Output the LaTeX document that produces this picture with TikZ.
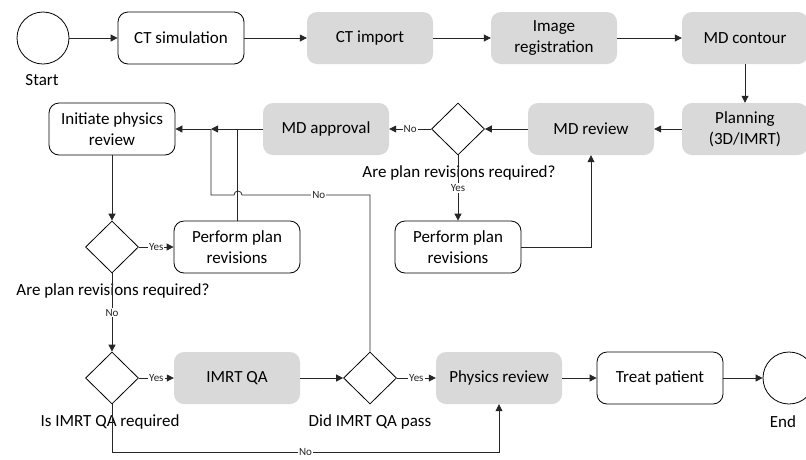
\documentclass[tikz,border=0pt]{standalone}
\usepackage{fontspec}
\setmainfont{Carlito}
\usepackage{tikz}
\usetikzlibrary{arrows.meta}
\usetikzlibrary{shapes.geometric}
\definecolor{boxgray}{HTML}{D9D9D9}

\begin{document}
\begin{tikzpicture}[x=1pt, y=-1pt,
		every node/.style={font=\fontsize{17}{21}\selectfont},
		proc/.style={draw, line width=0.8pt, rounded corners=10pt, minimum width=126pt, minimum height=52pt, align=center, inner sep=2pt},
		task/.style={fill=boxgray, rounded corners=10pt, minimum width=126pt, minimum height=52pt, align=center, inner sep=2pt},
		decision/.style={draw, line width=0.8pt, diamond, minimum width=53pt, minimum height=52pt, inner sep=0pt},
		terminal/.style={draw, line width=0.8pt, circle, minimum size=52pt, inner sep=0pt},
		flow/.style={line width=0.8pt, black!85, -{Triangle[length=7pt, width=7pt]}},
		link/.style={line width=0.8pt, black!85},
		tag/.style={font=\fontsize{11}{12}\selectfont, fill=white, inner sep=1pt}]
				\useasboundingbox (0,0) rectangle (806,459);
				
				% top row
				\node[terminal] (start) at (43,38) {};
				\node (startlbl) at (42,80) {Start};
				\node[proc] (ctsim) at (181,38) {CT simulation};
				\node[task] (ctimp) at (370,38) {CT import};
				\node[task] (imgreg) at (554,38) {Image\\registration};
				\node[task] (mdcont) at (745,38) {MD contour};
				
				% MD review loop
				\node[task] (plan) at (745,129) {Planning\\(3D/IMRT)};
				\node[task] (mdrev) at (591,129) {MD review};
				\node[decision] (dec1) at (458,129) {};
				\node (dec1lbl) at (459,173) {Are plan revisions required?};
				\node[proc] (rev1) at (458,247) {Perform plan\\revisions};
				\node[task] (mdappr) at (326,129) {MD approval};
				
				% physics side
				\node[proc] (init) at (112,129) {Initiate physics\\review};
				\node[decision] (dec2) at (112,247) {};
				\node (dec2lbl) at (113,291) {Are plan revisions required?};
				\node[proc] (rev2) at (237,247) {Perform plan\\revisions};
				\node[decision] (dec3) at (112,378) {};
				\node (dec3lbl) at (110,422) {Is IMRT QA required};
				\node[task] (qa) at (237,378) {IMRT QA};
				\node[decision] (dec4) at (370,378) {};
				\node (dec4lbl) at (370,422) {Did IMRT QA pass};
				\node[task] (phys) at (499,378) {Physics review};
				\node[proc] (treat) at (660,378) {Treat patient};
				\node[terminal] (end) at (789,378) {};
				\node (endlbl) at (783,422) {End};
				
				\coordinate (j1) at (211,129);
				\coordinate (loop) at (211,195);
				\coordinate (bot) at (499,452);
				
				\draw[flow] (start) -- (ctsim);
				\draw[flow] (ctsim) -- (ctimp);
				\draw[flow] (ctimp) -- (imgreg);
				\draw[flow] (imgreg) -- (mdcont);
				\draw[flow] (mdcont) -- (plan);
				\draw[flow] (plan) -- (mdrev);
				\draw[flow] (mdrev) -- (dec1);
				\draw[flow] (dec1) -- node[tag] {No} (mdappr);
				\draw[flow] (dec1) -- node[tag] {Yes} (rev1);
				\draw[flow] (rev1) -| (mdrev);
				
				\draw[flow] (mdappr) -- (j1);
				\draw[flow] (j1) -- (init);
				\draw[link] (rev2.north) -- (rev2.north |- j1);
				\draw[link] (dec4.north) |- node[tag, pos=0.7] {No} (242,195)
				arc[start angle=0, end angle=-180, radius=4] -- (loop) -- (j1);
				
				\draw[flow] (init) -- (dec2);
				\draw[flow] (dec2) -- node[tag] {Yes} (rev2);
				\draw[flow] (dec2) -- node[tag] {No} (dec3);
				\draw[flow] (dec3) -- node[tag] {Yes} (qa);
				\draw[flow] (qa) -- (dec4);
				\draw[flow] (dec4) -- node[tag] {Yes} (phys);
				\draw[flow] (phys) -- (treat);
				\draw[flow] (treat) -- (end);
				\draw[flow] (dec3.south) -- (dec3.south |- bot) -- node[tag] {No} (bot) -- (phys.south);
			\end{tikzpicture}
\end{document}
